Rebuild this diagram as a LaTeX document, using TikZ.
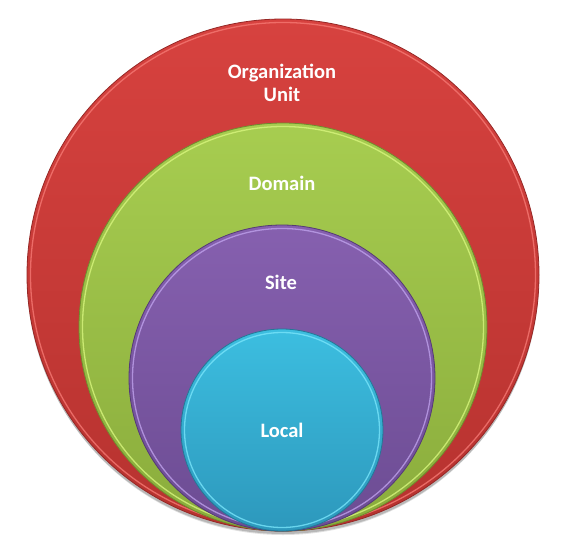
\documentclass[tikz,border=0pt]{standalone}
\usepackage{fontspec}
\setmainfont{Carlito}
\usetikzlibrary{shadings}
\definecolor{redT}{RGB}{215,66,63}
\definecolor{redB}{RGB}{182,50,47}
\definecolor{redR}{RGB}{245,120,115}
\definecolor{redE}{RGB}{150,40,38}
\definecolor{grnT}{RGB}{167,205,80}
\definecolor{grnB}{RGB}{138,172,60}
\definecolor{grnR}{RGB}{215,245,125}
\definecolor{grnE}{RGB}{110,140,45}
\definecolor{purT}{RGB}{134,96,175}
\definecolor{purB}{RGB}{108,76,147}
\definecolor{purR}{RGB}{190,160,235}
\definecolor{purE}{RGB}{85,58,118}
\definecolor{cynT}{RGB}{60,190,224}
\definecolor{cynB}{RGB}{45,152,188}
\definecolor{cynR}{RGB}{120,228,250}
\definecolor{cynE}{RGB}{35,120,150}
\tikzset{
  disc/.style={circle, inner sep=0pt, minimum size=#1},
  rim/.style={line width=1.3pt, opacity=0.8},
  lbl/.style={text=white, font=\fontsize{20.5}{22.5}\selectfont\bfseries, align=center, inner sep=0pt}
}
\begin{document}
\begin{tikzpicture}[x=1pt,y=-1pt]
\path[use as bounding box] (0,0) rectangle (565,549);
% shadow
\fill[black,opacity=0.18] (283,278) circle[radius=256pt];
\fill[black,opacity=0.12] (283,280) circle[radius=255pt];
% red
\node[disc=512pt, top color=redT, bottom color=redB, draw=redE, line width=0.8pt] (org) at (283,275) {};
\draw[rim, redR] (org.center) circle[radius=252.5pt];
% green
\node[disc=408pt, top color=grnT, bottom color=grnB, draw=grnE, line width=0.8pt] (dom) at (283,327) {};
\draw[rim, grnR] (dom.center) circle[radius=200.5pt];
% purple
\node[disc=306pt, top color=purT, bottom color=purB, draw=purE, line width=0.8pt] (site) at (282,378) {};
\draw[rim, purR] (site.center) circle[radius=149.5pt];
% cyan
\node[disc=202pt, top color=cynT, bottom color=cynB, draw=cynE, line width=0.8pt] (loc) at (282,430) {};
\draw[rim, cynR] (loc.center) circle[radius=97.5pt];
% labels
\node[lbl] (orgl) at (282,83) {Organization\\Unit};
\node[lbl] (doml) at (282,183) {Domain};
\node[lbl] (sitel) at (281,282) {Site};
\node[lbl] (locl) at (282,430) {Local};
\end{tikzpicture}
\end{document}
